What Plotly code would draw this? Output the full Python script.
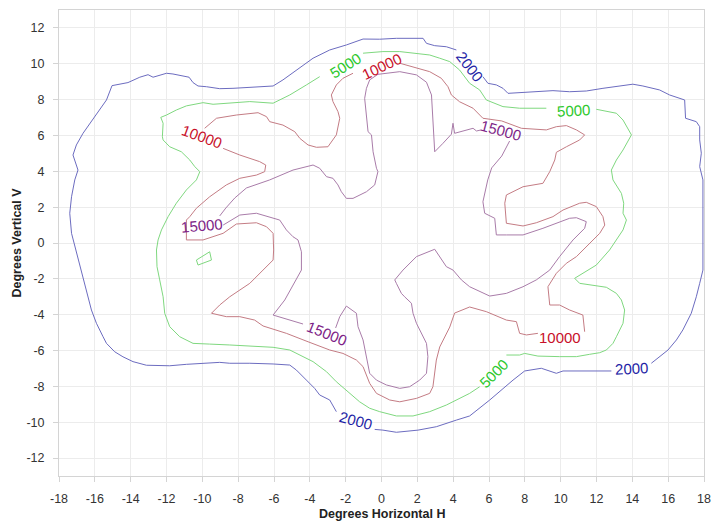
import plotly.graph_objects as go

# ---- contour level 2000 (None marks the gap where a label sits) ----
c2000_x = [5.66, 5.94, 6.41, 6.78, 7.06, 7.71, 8.64, 9.57, 10.50, 11.43, 12.36, 13.29, 14.03, 14.59, 15.52, 16.08,
           16.92, 16.97, 17.57, 17.76, 17.76, 17.85, 17.76, 17.94, 17.94, 17.94, 17.76, 17.57, 17.29, 16.82, 16.46,
           15.99, 15.06, None,
           12.83, 11.99, 10.13, 9.76, 9.39, 8.92, 7.99, 7.34, 6.04, 4.92, 4.18, 3.06, 2.04, 0.83, 0.08, -0.38, None,
           -2.52, -2.89, -3.45, -3.73, -4.19, -4.75, -5.12, -6.05, -7.35, -8.47, -9.03, -10.14, -10.89, -11.82,
           -12.38, -13.12, -13.87, -14.43, -14.89, -15.35, -15.54, -15.91, -16.19, -16.47, -16.66, -16.84, -17.03,
           -17.30, -17.40, -17.30, -17.12, -16.94, -17.22, -17.03, -16.66, -15.73, -15.35, -15.04, -14.61, -14.15,
           -13.49, -13.03, -12.75, -12.38, -12.00, -11.64, -11.17, -10.74, -10.52, -10.24, -9.77, -9.03, -8.29,
           -7.35, -6.05, -5.50, -4.75, -3.82, -2.89, -1.96, -1.03, -0.10, 0.83, 2.32, 2.51, 2.97, 3.62, 4.18]
c2000_y = [9.28, 8.91, 8.82, 8.63, 8.35, 8.39, 8.48, 8.50, 8.44, 8.48, 8.63, 8.76, 8.86, 8.76, 8.54, 8.26,
           7.98, 6.96, 6.77, 6.49, 5.75, 5.01, 4.26, 3.52, 0.91, -1.51, -2.25, -3.00, -3.92, -4.85, -5.41,
           -5.97, -6.71, None,
           -7.14, -7.14, -7.14, -7.27, -7.14, -6.99, -7.14, -7.65, -8.76, -9.65, -9.88, -10.25, -10.44, -10.56,
           -10.44, -10.40, None,
           -9.41, -8.76, -8.48, -8.11, -7.65, -7.09, -6.81, -6.75, -6.71, -6.71, -6.66, -6.71, -6.77, -6.85,
           -6.82, -6.82, -6.62, -6.35, -6.07, -5.60, -5.23, -4.48, -3.74, -2.62, -1.88, -1.13, -0.39,
           0.54, 1.66, 2.58, 3.52, 4.07, 4.91, 5.47, 6.12, 7.42, 7.98, 8.78, 8.87, 8.95,
           9.25, 9.39, 9.25, 9.38, 9.47, 9.43, 9.34, 9.25, 8.95, 8.76, 8.72, 8.61, 8.63,
           8.69, 8.76, 9.10, 9.65, 10.31, 10.77, 11.05, 11.38, 11.37, 11.42, 11.42, 11.14, 11.01, 10.95, 10.77]

# ---- contour level 5000 ----
c5000_x = [-1.03, 0.08, 1.02, 1.95, 2.69, 3.25, 3.81, 4.36, 4.74, 4.92, 5.48, 5.85, 6.78, 7.71, 9.20, None,
           11.99, 13.11, 13.48, 13.95, 13.48, 13.11, 12.83, 12.92, 13.39, 13.52, 13.48, 13.67, 13.48, 13.11, 12.73,
           11.99, 11.24, 10.78, 11.06, 11.80, 12.55, 13.11, 13.39, 13.57, 13.48, 13.11, 12.92, 12.55, 12.18, 11.62,
           10.88, 9.94, 8.73, 7.99, 7.71, 6.97, None,
           5.48, 4.92, 3.62, 2.69, 1.76, 0.83, -0.10, -0.66, -1.22, -1.96, -2.52, -3.07, -3.82, -4.38, -5.12,
           -6.05, -7.35, -8.47, -9.59, -10.52, -11.26, -11.82, -12.10, -12.19, -12.38, -12.53, -12.56, -12.47,
           -12.28, -11.91, -11.45, -10.89, -10.33, -10.14, -10.42, -10.70, -11.17, -11.82, -12.19, -12.23, -12.19,
           -12.32, -12.00, -11.45, -10.89, -9.96, -9.40, -8.66, -7.91, -7.35, -6.05, -5.12, -4.19, -3.45, None,
           -10.33, -10.24, -9.49, -9.59, -10.33]
c5000_y = [10.59, 10.68, 10.68, 10.59, 10.49, 10.31, 10.12, 9.65, 9.10, 8.91, 8.54, 7.98, 7.61, 7.52, 7.52, None,
           7.46, 7.24, 6.86, 6.03, 5.19, 4.63, 4.07, 3.52, 2.77, 2.22, 1.66, 1.28, 0.73, 0.17, -0.39,
           -1.23, -1.69, -1.97, -2.25, -2.34, -2.47, -2.81, -3.18, -3.74, -4.48, -5.23, -5.60, -5.97, -6.12, -6.21,
           -6.34, -6.34, -6.31, -6.16, -6.25, -6.25, None,
           -8.02, -8.39, -9.04, -9.41, -9.65, -9.65, -9.41, -9.22, -8.86, -8.20, -7.74, -7.18, -6.62, -6.34, -5.97,
           -5.82, -5.73, -5.69, -5.64, -5.60, -5.23, -4.67, -3.92, -3.00, -2.06, -1.32, -0.39, 0.17,
           0.73, 1.47, 2.22, 2.96, 3.52, 3.98, 4.26, 4.63, 5.09, 5.37, 5.75, 5.93, 6.68,
           7.01, 7.14, 7.42, 7.65, 7.83, 7.74, 7.80, 7.83, 7.89, 7.80, 8.26, 8.82, 9.28, None,
           -0.95, -1.23, -0.95, -0.49, -0.95]

# ---- contour level 10000 ----
c10000_x = [1.02, 1.76, 2.69, 3.34, 3.71, 3.90, 4.36, 5.11, 5.66, 6.71, 7.81, 9.20, 9.76, 10.32, 10.88, 11.34,
            11.06, 10.32, 9.76, 9.67, 9.39, 9.01, 7.90, 6.97, 6.88, 6.97, 7.90, 8.64, 9.57, 10.13, 11.06, 11.43,
            11.99, 12.36, 12.46, 12.18, 11.62, 10.88, 10.32, 9.76, 9.29, 9.39, 9.94, 10.50, 11.24, 11.34, None,
            8.73, 8.09, 7.71, 7.53, 6.97, 5.85, 4.92, 4.08, 3.81, 3.47, 3.25, 3.06, 2.97, 2.87, 2.69, 1.95, 1.02,
            0.46, -0.28, -0.66, -1.03, -1.40, -2.15, -2.89, -4.10, -5.31, -6.61, -7.08, -7.91, -8.66, -9.49,
            -9.03, -8.47, -7.91, -7.35, -6.61, -6.05, -6.02, -6.05, -6.42, -6.98, -8.10, -8.84, -9.96, -10.89,
            -10.89, -10.70, -10.33, -9.59, -8.66, -7.91, -6.98, -6.52, -6.46, -6.80, -7.91, -8.84, None,
            -9.87, -9.21, -8.10, -6.89, -6.42, -6.24, -5.50, -4.84, -4.56, -4.10, -3.63, -2.99, -2.52, -2.33,
            -2.43, -2.71, -2.80, -2.52, -2.15, -1.59]
c10000_y = [10.03, 9.84, 9.56, 9.19, 8.72, 8.26, 7.88, 7.52, 6.96, 6.81, 6.40, 6.31, 6.49, 6.55, 6.31, 6.03,
            5.75, 5.37, 5.06, 4.63, 3.98, 3.33, 3.14, 2.68, 2.22, 1.10, 0.95, 1.13, 1.47, 1.84, 2.22, 2.27,
            2.03, 1.47, 1.00, 0.54, -0.02, -0.76, -1.13, -1.69, -2.44, -3.46, -3.46, -3.74, -4.02, -4.95, None,
            -5.04, -5.13, -5.04, -4.39, -4.30, -3.83, -3.57, -3.91, -4.69, -5.41, -5.80, -6.53, -7.27, -8.02,
            -8.39, -8.67, -8.86, -8.76, -8.39, -7.83, -6.90, -6.53, -6.16, -5.97, -5.51, -5.04, -4.63, -4.30,
            -4.11, -4.11, -3.92, -3.46, -3.00, -2.62, -2.25, -1.51, -0.95, -0.39, 0.54, 0.91, 1.13, 1.06, 0.54,
            0.17, 0.17, 1.28, 1.47, 1.94, 2.58, 3.24, 3.61, 3.79, 3.98, 4.35, 4.54, 4.91, 5.28, None,
            6.40, 6.96, 7.14, 7.27, 7.05, 6.77, 6.58, 6.21, 5.84, 5.47, 5.34, 5.37, 6.03, 6.96,
            7.33, 7.89, 8.26, 8.82, 9.19, 9.47]

# ---- contour level 15000 ----
c15000_x = [7.15, 6.71, 6.15, 5.93, 5.66, 5.76, 6.32, 6.41, 6.97, 7.90, 9.01, 9.76, 10.50, 10.88, 11.43, 11.34,
            10.69, 9.94, 9.39, 8.64, 7.90, 6.97, 6.04, 4.92, 4.46, 3.99, 3.62, 2.97, 1.95, 1.20, 0.74, 0.83, 1.11,
            1.29, 1.67, 1.76, 1.95, 2.51, 2.59, 2.51, 2.13, 1.57, 1.02, 0.27, -0.28, -0.66, -0.84, -1.03, -1.31,
            -1.40, -1.96, -2.33, -2.56, None,
            -4.38, -6.05, -5.40, -4.75, -4.47, -4.47, -4.66, -4.94, -5.31, -5.68, -6.98, -7.91, -8.84, None,
            -9.03, -8.69, -8.19, -7.54, -6.24, -4.94, -3.82, -3.45, -3.07, -2.71, -2.43, -2.24, -1.96, -1.59,
            -0.84, -0.38, -0.20, -0.28, -0.47, -0.56, -0.75, -0.84, -0.94, -0.84, -0.66, -0.20, 1.02, 1.95, 2.51,
            2.79, 2.87, 2.97, 3.43, 3.90, 3.99, 4.08, 5.11, 5.30, 5.57]
c15000_y = [5.69, 4.85, 4.19, 3.52, 2.30, 1.66, 1.38, 0.45, 0.45, 0.45, 0.82, 1.10, 1.38, 1.41, 1.19, 0.82,
            0.17, -0.76, -1.51, -2.06, -2.44, -2.81, -2.96, -2.44, -2.06, -1.51, -1.32, -0.35, -0.76, -1.51,
            -2.06, -2.25, -2.81, -3.00, -3.36, -3.92, -4.48, -5.60, -6.34, -7.27, -7.65, -8.02, -8.11, -7.92,
            -7.65, -7.27, -6.34, -5.41, -4.67, -3.92, -3.52, -4.11, -4.74, None,
            -4.52, -4.02, -3.18, -2.06, -1.51, -0.49, 0.17, 0.35, 0.73, 1.28, 1.66, 1.56, 1.00, None,
            1.51, 1.95, 2.51, 3.07, 3.52, 4.07, 4.35, 4.17, 3.70, 3.61, 3.24, 2.86, 2.49, 2.49,
            2.86, 3.24, 3.98, 4.17, 5.09, 6.03, 6.21, 7.33, 8.07, 8.63, 9.10, 9.41, 9.56, 9.38, 8.97,
            8.26, 6.96, 5.09, 5.56, 6.07, 6.68, 6.12, 6.40, 6.25, 6.31]

# ---- contour labels ----
label_text = ["2000", "2000", "2000", "5000", "5000", "5000", "10000", "10000", "10000", "15000", "15000", "15000"]
label_x = [4.92, 13.93, -1.44, -2.01, 10.69, 6.26, 0.00, -10.03, 9.94, 6.69, -10.01, -3.03]
label_y = [9.84, -6.98, -9.93, 9.89, 7.42, -7.27, 9.84, 5.92, -5.30, 6.26, 0.98, -5.05]
label_angle = [52, -3, 15, -32, -3, -45, -25, 20, 0, 15, -5, 22]

x_ticks = list(range(-18, 19, 2))
y_ticks = list(range(-12, 13, 2))

line_col = {"2000": "#6c6cc0", "5000": "#7fd87f", "10000": "#c47c84", "15000": "#a97ca9"}
text_col = {"2000": "#1f1fa6", "5000": "#2dc82d", "10000": "#c8102a", "15000": "#7e1f88"}
FONT = "Liberation Sans, Arial, sans-serif"

fig = go.Figure()
for lvl, xs, ys in [("2000", c2000_x, c2000_y), ("5000", c5000_x, c5000_y),
                    ("10000", c10000_x, c10000_y), ("15000", c15000_x, c15000_y)]:
    fig.add_trace(go.Scatter(x=xs, y=ys, mode="lines", connectgaps=False,
                             line=dict(color=line_col[lvl], width=1), hoverinfo="skip", showlegend=False))

for t, x, y, a in zip(label_text, label_x, label_y, label_angle):
    fig.add_annotation(x=x, y=y, xref="x", yref="y", text=t, showarrow=False, textangle=a,
                       font=dict(size=15, color=text_col[t], family=FONT))

# axis titles
fig.add_annotation(x=0.5, y=0, xref="paper", yref="paper", yanchor="middle", yshift=-38,
                   text="<b>Degrees Horizontal H</b>", showarrow=False,
                   font=dict(size=12.5, color="#222222", family=FONT))
fig.add_annotation(x=0, y=0.5, xref="paper", yref="paper", xanchor="center", xshift=-42.5,
                   text="<b>Degrees Vertical V</b>", showarrow=False, textangle=-90,
                   font=dict(size=12.5, color="#222222", family=FONT))

axis_common = dict(showgrid=True, gridcolor="#ececec", gridwidth=1, zeroline=False,
                   showline=True, linecolor="#d4d4d4", linewidth=1, mirror=True,
                   ticks="outside", ticklen=5, tickcolor="#d4d4d4", automargin=False,
                   ticklabeloverflow="allow",
                   tickfont=dict(size=12.5, color="#333333", family=FONT))

fig.update_xaxes(range=[-18, 18], tickvals=x_ticks, ticktext=[str(v) for v in x_ticks],
                 ticklabelstandoff=6, **axis_common)
fig.update_yaxes(range=[-13, 13], tickvals=y_ticks, ticktext=[str(v) for v in y_ticks],
                 ticklabelstandoff=6, **axis_common)

fig.update_layout(width=712, height=523, margin=dict(l=59, r=8, t=10, b=47, autoexpand=False),
                  plot_bgcolor="white", paper_bgcolor="white", showlegend=False)

# remove the default page margin so the figure fills the window exactly
fig.write_html("out.html", config={"displayModeBar": False},
               post_script="document.body.style.margin='0';")
